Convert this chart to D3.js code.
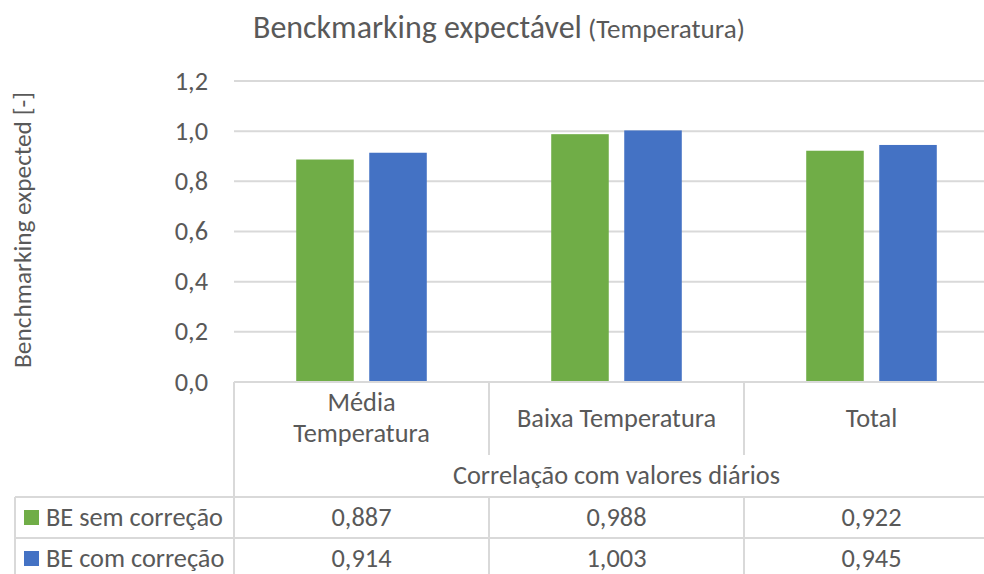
<!DOCTYPE html>
<html>
<head>
<meta charset="utf-8">
<script src="https://cdn.jsdelivr.net/npm/d3@7"></script>
<style>
  html, body { margin: 0; padding: 0; background: #fff; }
  svg { display: block; font-family: Carlito, Lato, "Open Sans", sans-serif; }
</style>
</head>
<body>
<svg id="chart" width="984" height="574"></svg>
<script>
// ---- data ----
const categories = [["Média", "Temperatura"], ["Baixa Temperatura"], ["Total"]];
const categoryKeys = ["Média Temperatura", "Baixa Temperatura", "Total"];
const seriesNames = ["BE sem correção", "BE com correção"];
const semCorrecao = [0.887, 0.988, 0.922];
const comCorrecao = [0.914, 1.003, 0.945];
const yTicks = [0, 0.2, 0.4, 0.6, 0.8, 1.0, 1.2];
const titleMain = "Benckmarking expectável";
const titleSub = "(Temperatura)";
const yTitle = "Benchmarking expected [-]";
const groupTitle = "Correlação com valores diários";

const seriesValues = [semCorrecao, comCorrecao];
const colors = ["#70AD47", "#4472C4"];
const textColor = "#595959";
const lineColor = "#D9D9D9";
const fmt = v => d3.format(".1f")(v).replace(".", ",");
const fmt3 = v => d3.format(".3f")(v).replace(".", ",");

const svg = d3.select("#chart");

// ---- layout ----
const plotLeft = 234, plotRight = 999, plotTop = 81, plotBottom = 382;
const tableLeft = 15;
const rowTop1 = 497, rowTop2 = 538, rowBottom = 579;
const headerSplit = 455;

const y = d3.scaleLinear().domain([0, 1.2]).range([plotBottom, plotTop]);
const x0 = d3.scaleBand().domain(categoryKeys).range([plotLeft, plotRight]).padding(0);
const x1 = d3.scaleBand().domain(seriesNames).range([0, x0.bandwidth()])
  .paddingInner(0.212).paddingOuter(0.852);

// font fitting helper: scale font-size so the text gets a target width
function fit(sel, base, target) {
  sel.attr("font-size", base);
  const w = sel.node().getComputedTextLength();
  if (w > 0) sel.attr("font-size", base * target / w);
  return +sel.attr("font-size");
}

// measure body font size from a reference label
const probe = svg.append("text").text("BE sem correção");
const bodySize = fit(probe, 26, 177);
probe.remove();

// ---- gridlines ----
svg.append("g").selectAll("line")
  .data(yTicks.filter(t => t > 0))
  .join("line")
  .attr("x1", plotLeft).attr("x2", plotRight)
  .attr("y1", d => y(d)).attr("y2", d => y(d))
  .attr("stroke", lineColor).attr("stroke-width", 2);

// ---- y tick labels ----
svg.append("g").selectAll("text")
  .data(yTicks)
  .join("text")
  .attr("x", 208)
  .attr("y", d => y(d) + 8.6)
  .attr("text-anchor", "end")
  .attr("fill", textColor)
  .attr("font-size", bodySize)
  .text(d => fmt(d));

// ---- bars ----
const groups = svg.append("g").selectAll("g")
  .data(categoryKeys)
  .join("g")
  .attr("transform", d => `translate(${x0(d)},0)`);

groups.selectAll("rect")
  .data((d, i) => seriesNames.map((s, j) => ({ s, v: seriesValues[j][i], j })))
  .join("rect")
  .attr("x", d => x1(d.s))
  .attr("width", x1.bandwidth())
  .attr("y", d => y(d.v))
  .attr("height", d => y(0) - y(d.v))
  .attr("fill", d => colors[d.j]);

// ---- table lines ----
const tl = svg.append("g").attr("stroke", lineColor).attr("stroke-width", 2);
const hLines = [
  [plotLeft, plotRight, plotBottom],
  [tableLeft, plotRight, rowTop1],
  [tableLeft, plotRight, rowTop2],
  [tableLeft, plotRight, rowBottom]
];
tl.selectAll("line.h").data(hLines).join("line").attr("class", "h")
  .attr("x1", d => d[0]).attr("x2", d => d[1]).attr("y1", d => d[2]).attr("y2", d => d[2]);

const vLines = [
  [tableLeft, rowTop1, rowBottom],
  [plotLeft, plotBottom, rowBottom]
];
categoryKeys.slice(1).forEach(c => {
  vLines.push([x0(c), plotBottom, headerSplit]);
  vLines.push([x0(c), rowTop1, rowBottom]);
});
vLines.push([plotRight, plotBottom, rowBottom]);
tl.selectAll("line.v").data(vLines).join("line").attr("class", "v")
  .attr("x1", d => d[0]).attr("x2", d => d[0]).attr("y1", d => d[1]).attr("y2", d => d[2]);

// ---- category labels ----
const catG = svg.append("g").attr("fill", textColor).attr("font-size", bodySize).attr("text-anchor", "middle");
categories.forEach((lines, i) => {
  const cx = x0(categoryKeys[i]) + x0.bandwidth() / 2;
  const lh = 31;
  const base = 426.7 - (lines.length - 1) * lh / 2;
  lines.forEach((ln, k) => {
    catG.append("text").attr("x", cx).attr("y", base + k * lh).text(ln);
  });
});

// group title
svg.append("text")
  .attr("x", (plotLeft + plotRight) / 2)
  .attr("y", 484)
  .attr("text-anchor", "middle")
  .attr("fill", textColor)
  .attr("font-size", bodySize)
  .text(groupTitle);

// ---- table rows ----
const rowBaselines = [525.5, 566.5];
seriesNames.forEach((s, j) => {
  const rowCenter = j === 0 ? (rowTop1 + rowTop2) / 2 : (rowTop2 + rowBottom) / 2;
  svg.append("rect")
    .attr("x", 24).attr("y", rowCenter - 7.5)
    .attr("width", 15).attr("height", 15)
    .attr("fill", colors[j]);
  svg.append("text")
    .attr("x", 46).attr("y", rowBaselines[j])
    .attr("fill", textColor).attr("font-size", bodySize)
    .text(s);
  svg.append("g").selectAll("text")
    .data(seriesValues[j])
    .join("text")
    .attr("x", (d, i) => x0(categoryKeys[i]) + x0.bandwidth() / 2)
    .attr("y", rowBaselines[j])
    .attr("text-anchor", "middle")
    .attr("fill", textColor).attr("font-size", bodySize)
    .text(d => fmt3(d));
});

// ---- title ----
const tMain = svg.append("text")
  .attr("x", 253).attr("y", 37.5)
  .attr("fill", textColor).text(titleMain);
fit(tMain, 28, 329);
const tSub = svg.append("text")
  .attr("x", 588).attr("y", 37.5)
  .attr("fill", textColor).text(titleSub);
fit(tSub, 22, 157);

// ---- y axis title ----
const yt = svg.append("text")
  .attr("transform", "translate(31,230) rotate(-90)")
  .attr("text-anchor", "middle")
  .attr("fill", textColor)
  .text(yTitle);
fit(yt, 26, 276);
</script>
</body>
</html>
